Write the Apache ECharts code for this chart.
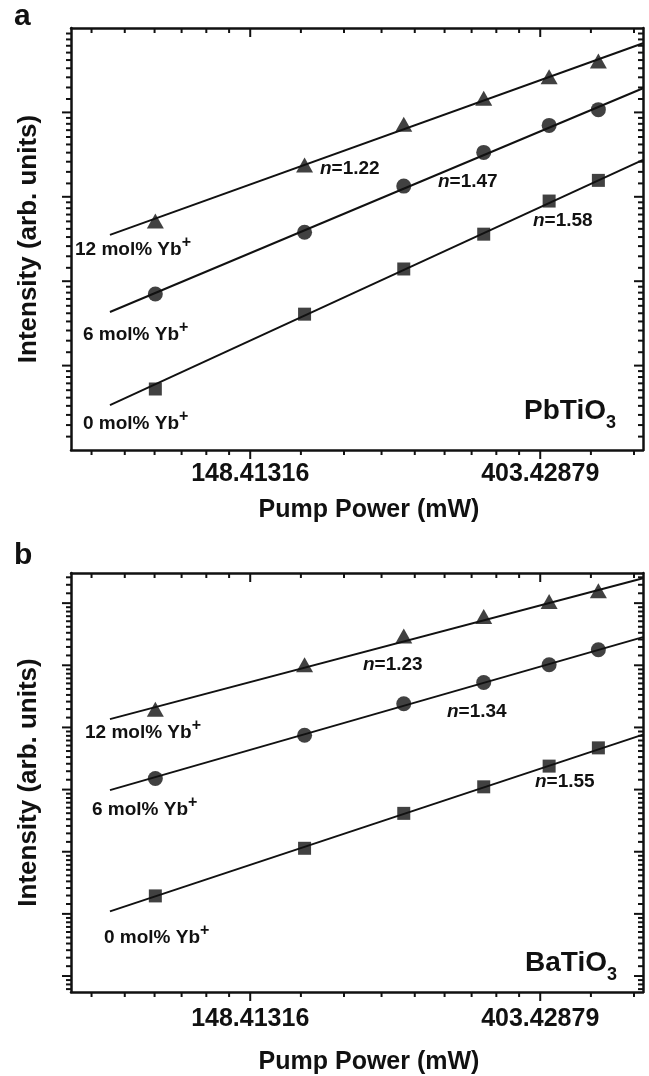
<!DOCTYPE html>
<html>
<head>
<meta charset="utf-8">
<script src="https://cdn.jsdelivr.net/npm/echarts@6/dist/echarts.min.js"></script>
<style>
html, body { margin: 0; padding: 0; background: #fff; }
#main { width: 649px; height: 1076px; }
</style>
</head>
<body>
<div id="main"></div>
<script>
// pump power (mW), same six points in both samples
var pumpPower = [107, 179, 252, 332, 416, 493];

// a : PbTiO3, intensity (arb. units)
var pbYb12 = [15.1, 29.3, 47.4, 64.6, 83.4, 100.4];
var pbYb6 = [6.35, 13.2, 22.8, 34.0, 46.8, 56.4];
var pbYb0 = [2.06, 5.0, 8.54, 12.9, 19.1, 24.4];
// fitted lines, read at both ends
var fitPower = [91.5, 575];
var pbFit12 = [12.8, 123.8];
var pbFit6 = [5.13, 72.7];
var pbFit0 = [1.70, 31.1];
var pbSlopes = ['1.22', '1.47', '1.58'];

// b : BaTiO3
var baYb12 = [73.3, 149.6, 238, 325, 413.5, 493];
var baYb6 = [24.0, 48.1, 80.0, 112.6, 149.6, 190.4];
var baYb0 = [3.63, 7.81, 13.7, 21.0, 29.3, 39.3];
var baFit12 = [62.4, 601.8];
var baFit6 = [19.9, 233.4];
var baFit0 = [2.83, 48.6];
var baSlopes = ['1.23', '1.34', '1.55'];

var dopants = ['12 mol% Yb', '6 mol% Yb', '0 mol% Yb'];
var hosts = ['PbTiO', 'BaTiO'];
var xTickLabels = ['148.41316', '403.42879'];   // e^5, e^6

var E = Math.E;
var INK = '#111';
var FONT = "'Liberation Sans', Arial, Helvetica, sans-serif";
var xRange = [80, 575];
var yRangeA = [1, Math.pow(E, 5)];
var yRangeB = [Math.exp(-0.257), Math.exp(6.485)];

var chart = echarts.init(document.getElementById('main'));

function pairs(xs, ys) {
    return xs.map(function (x, i) { return [x, ys[i]]; });
}

// ticks inside each e-fold, spaced evenly in value
function minorTicks(lo, hi, splits) {
    var out = [];
    for (var k = Math.floor(Math.log(lo)); k < Math.ceil(Math.log(hi)); k++) {
        var a = Math.pow(E, k), b = Math.pow(E, k + 1);
        for (var j = 1; j < splits; j++) {
            var v = a + (b - a) * j / splits;
            if (v > lo && v < hi) out.push(v);
        }
    }
    return out;
}
function majorTicks(lo, hi) {
    var out = [];
    for (var k = Math.ceil(Math.log(lo) + 1e-9); Math.pow(E, k) < hi * (1 - 1e-9); k++) out.push(Math.pow(E, k));
    return out;
}

// tick marks for one frame: bottom/left outward, top/right inward
function frameTicks(yr) {
    var d = [];
    majorTicks(xRange[0], xRange[1]).forEach(function (v) {
        d.push([v, yr[0], 0, 9]);
        d.push([v, yr[1], 0, 9]);
    });
    minorTicks(xRange[0], xRange[1], 9).forEach(function (v) {
        d.push([v, yr[0], 0, 5]);
        d.push([v, yr[1], 0, 5]);
    });
    majorTicks(yr[0], yr[1]).forEach(function (v) {
        d.push([xRange[0], v, -9, 0]);
        d.push([xRange[1], v, -9, 0]);
    });
    minorTicks(yr[0], yr[1], 10).forEach(function (v) {
        d.push([xRange[0], v, -5, 0]);
        d.push([xRange[1], v, -5, 0]);
    });
    return d;
}

function renderTick(params, api) {
    var p = api.coord([api.value(0), api.value(1)]);
    return {
        type: 'line',
        shape: { x1: p[0], y1: p[1], x2: p[0] + api.value(2), y2: p[1] + api.value(3) },
        style: { stroke: INK, lineWidth: 2 }
    };
}

function xAxes(grid, labelMargin, nameGap) {
    return [{
        type: 'log', logBase: E, gridIndex: grid, min: xRange[0], max: xRange[1],
        position: 'bottom',
        name: 'Pump Power (mW)', nameLocation: 'middle', nameGap: nameGap,
        nameTextStyle: { fontFamily: FONT, fontWeight: 'bold', fontSize: 25, color: INK, padding: [0, 0, 0, 24] },
        axisLine: { lineStyle: { color: INK, width: 2.5 } },
        axisTick: { show: false },
        splitLine: { show: false },
        axisLabel: {
            margin: labelMargin, showMinLabel: false, showMaxLabel: false,
            fontFamily: FONT, fontWeight: 'bold', fontSize: 25, color: INK,
            formatter: function (v) {
                var i = Math.round(Math.log(v)) - 5;
                if (Math.abs(Math.log(v) - 5 - i) < 1e-6 && xTickLabels[i]) return xTickLabels[i];
                return '';
            }
        }
    }, {
        type: 'log', logBase: E, gridIndex: grid, min: xRange[0], max: xRange[1],
        position: 'top',
        axisLine: { lineStyle: { color: INK, width: 2.5 } },
        axisTick: { show: false }, axisLabel: { show: false }, splitLine: { show: false }
    }];
}

function yAxes(grid, yr) {
    return [{
        type: 'log', logBase: E, gridIndex: grid, min: yr[0], max: yr[1],
        position: 'left',
        name: 'Intensity (arb. units)', nameLocation: 'middle', nameGap: 29,
        nameTextStyle: { fontFamily: FONT, fontWeight: 'bold', fontSize: 26, color: INK },
        axisLine: { lineStyle: { color: INK, width: 2.5 } },
        axisTick: { show: false }, axisLabel: { show: false }, splitLine: { show: false }
    }, {
        type: 'log', logBase: E, gridIndex: grid, min: yr[0], max: yr[1],
        position: 'right',
        axisLine: { lineStyle: { color: INK, width: 2.5 } },
        axisTick: { show: false }, axisLabel: { show: false }, splitLine: { show: false }
    }];
}

function panelSeries(xi, yi, yr, fits, points) {
    var list = [];
    fits.forEach(function (f) {
        list.push({
            type: 'line', xAxisIndex: xi, yAxisIndex: yi, data: pairs(fitPower, f),
            showSymbol: false, silent: true, animation: false,
            lineStyle: { color: INK, width: 2 }
        });
    });
    var symbols = [['triangle', [17, 15]], ['circle', 15], ['rect', 13]];
    points.forEach(function (p, i) {
        list.push({
            type: 'scatter', xAxisIndex: xi, yAxisIndex: yi, data: pairs(pumpPower, p),
            symbol: symbols[i][0], symbolSize: symbols[i][1], animation: false,
            itemStyle: { color: INK }
        });
    });
    list.push({
        type: 'custom', xAxisIndex: xi, yAxisIndex: yi, data: frameTicks(yr),
        renderItem: renderTick, silent: true, animation: false
    });
    return list;
}

var richBase = {
    m: { fontFamily: FONT, fontWeight: 'bold', fontSize: 19, lineHeight: 30, fill: INK },
    i: { fontFamily: FONT, fontWeight: 'bold', fontStyle: 'italic', fontSize: 19, lineHeight: 30, fill: INK },
    s: { fontFamily: FONT, fontWeight: 'bold', fontSize: 16, lineHeight: 30, verticalAlign: 'top', fill: INK },
    h: { fontFamily: FONT, fontWeight: 'bold', fontSize: 28, lineHeight: 42, fill: INK },
    d: { fontFamily: FONT, fontWeight: 'bold', fontSize: 18, lineHeight: 42, verticalAlign: 'bottom', fill: INK }
};
function note(x, y, text) {
    return {
        type: 'text', x: x, y: y, silent: true,
        style: { text: text, rich: richBase, fill: INK, align: 'left', verticalAlign: 'middle',
                 textAlign: 'left', textVerticalAlign: 'middle' }
    };
}
function letter(x, y, t) {
    return {
        type: 'text', x: x, y: y, silent: true,
        style: { text: t, fill: INK, font: 'bold 30px ' + FONT, align: 'left', verticalAlign: 'middle',
                 textAlign: 'left', textVerticalAlign: 'middle' }
    };
}

var graphics = [
    letter(14, 17, 'a'),
    note(75, 250, '{m|' + dopants[0] + '}{s|+}'),
    note(83, 335, '{m|' + dopants[1] + '}{s|+}'),
    note(83, 423.5, '{m|' + dopants[2] + '}{s|+}'),
    note(320, 169, '{i|n}{m|=' + pbSlopes[0] + '}'),
    note(438, 182, '{i|n}{m|=' + pbSlopes[1] + '}'),
    note(533, 221, '{i|n}{m|=' + pbSlopes[2] + '}'),
    note(524, 411, '{h|' + hosts[0] + '}{d|3}'),

    letter(14, 556, 'b'),
    note(85, 733, '{m|' + dopants[0] + '}{s|+}'),
    note(92, 810, '{m|' + dopants[1] + '}{s|+}'),
    note(104, 938, '{m|' + dopants[2] + '}{s|+}'),
    note(363, 665, '{i|n}{m|=' + baSlopes[0] + '}'),
    note(447, 712, '{i|n}{m|=' + baSlopes[1] + '}'),
    note(535, 782, '{i|n}{m|=' + baSlopes[2] + '}'),
    note(525, 963, '{h|' + hosts[1] + '}{d|3}')
];

var option = {
    backgroundColor: '#fff',
    animation: false,
    grid: [
        { left: 71, top: 28, width: 572, height: 422 },
        { left: 71, top: 573, width: 572, height: 420 }
    ],
    xAxis: xAxes(0, 12, 48).concat(xAxes(1, 15, 58)),
    yAxis: yAxes(0, yRangeA).concat(yAxes(1, yRangeB)),
    series: panelSeries(0, 0, yRangeA, [pbFit12, pbFit6, pbFit0], [pbYb12, pbYb6, pbYb0])
        .concat(panelSeries(2, 2, yRangeB, [baFit12, baFit6, baFit0], [baYb12, baYb6, baYb0])),
    graphic: graphics
};
chart.setOption(option);
</script>
</body>
</html>
